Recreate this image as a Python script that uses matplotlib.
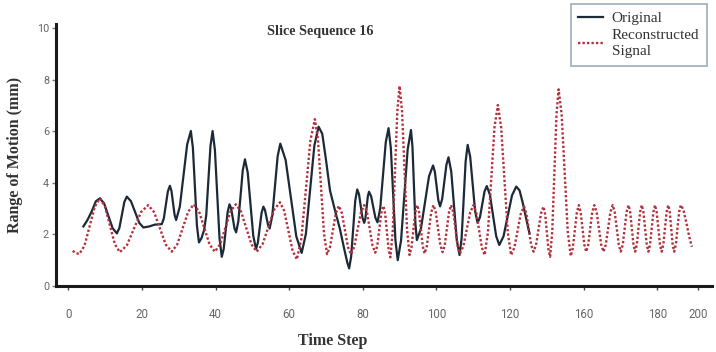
import matplotlib.pyplot as plt

# values (Time Step, Range of Motion in mm)
orig_t = [4.1, 5.2, 6.35, 7.5, 8.6,
          9.75, 10.9, 12.05, 13.2, 13.88, 14.55, 15.23, 15.9,
          17.03, 18.15, 19.28, 20.4, 22.0, 23.5, 25.4,
          25.95, 26.5, 27.05, 27.6, 28.03, 28.45, 28.88, 29.3,
          30.3, 31.3, 32.3, 33.3, 33.85, 34.4, 34.95, 35.5,
          36.2, 36.9, 37.48, 38.05, 38.63, 39.2,
          39.83, 40.45, 41.08, 41.7, 42.23, 42.75, 43.28, 43.8,
          44.25, 44.7, 45.15, 45.6, 46.2, 46.8, 47.4, 48.0,
          48.75, 49.5, 50.25, 51.0, 51.5, 52.0, 52.5, 53.0,
          53.43, 53.85, 54.28, 54.7, 55.43, 56.15, 56.88, 57.6,
          59.05, 60.5, 61.95, 63.4, 64.55, 65.7, 66.85, 68.0,
          69.0, 70.0, 71.1, 72.5, 73.8, 75.0, 75.8, 76.3,
          76.85, 77.4, 77.95, 78.5, 78.98, 79.45, 79.93, 80.4,
          80.73, 81.05, 81.38, 81.7, 82.28, 82.85, 83.43, 84.0,
          84.75, 85.5, 86.25, 87.0, 87.63, 88.25, 88.88, 89.5,
          90.4, 91.3, 92.2, 93.1, 93.5, 93.9, 94.3, 94.7,
          95.8, 96.9, 98.0, 99.1, 99.58, 100.05, 100.53, 101.0,
          101.58, 102.15, 102.73, 103.3, 104.05, 104.8, 105.55, 106.3,
          106.85, 107.4, 107.95, 108.5, 109.18, 109.85, 110.53, 111.2,
          111.83, 112.45, 113.08, 113.7, 114.55, 115.4, 116.25, 117.1,
          118.25, 119.4, 120.55, 121.7, 122.6, 123.5, 124.4, 125.3]
orig_val = [2.30, 2.55, 2.88, 3.28, 3.39,
            3.19, 2.71, 2.23, 2.03, 2.24, 2.75, 3.25, 3.46,
            3.28, 2.86, 2.44, 2.26, 2.30, 2.37, 2.39,
            2.61, 3.14, 3.66, 3.88, 3.68, 3.22, 2.75, 2.55,
            3.07, 4.28, 5.49, 6.01, 5.36, 3.85, 2.33, 1.68,
            1.85, 2.16, 2.74, 4.09, 5.43, 6.01,
            5.28, 3.57, 1.85, 1.12, 1.43, 2.14, 2.85, 3.16,
            3.00, 2.62, 2.23, 2.07, 2.50, 3.49, 4.48, 4.91,
            4.39, 3.17, 1.94, 1.42, 1.67, 2.25, 2.82, 3.07,
            2.94, 2.65, 2.35, 2.22, 2.72, 3.87, 5.03, 5.52,
            4.88, 3.40, 1.91, 1.27, 2.01, 3.73, 5.44, 6.18,
            5.90, 4.90, 3.70, 2.90, 2.20, 1.40, 0.90, 0.67,
            1.13, 2.21, 3.29, 3.74, 3.55, 3.09, 2.63, 2.44,
            2.62, 3.05, 3.47, 3.65, 3.47, 3.06, 2.64, 2.46,
            3.01, 4.29, 5.57, 6.12, 5.35, 3.56, 1.76, 0.99,
            1.75, 3.52, 5.29, 6.05, 5.41, 3.91, 2.41, 1.77,
            2.21, 3.22, 4.25, 4.67, 4.43, 3.88, 3.32, 3.08,
            3.37, 4.04, 4.70, 4.99, 4.42, 3.09, 1.76, 1.19,
            1.83, 3.33, 4.83, 5.47, 5.02, 3.96, 2.89, 2.44,
            2.65, 3.16, 3.66, 3.87, 3.53, 2.73, 1.92, 1.58,
            1.92, 2.72, 3.51, 3.85, 3.70, 3.20, 2.60, 2.03]

rec_t = [1.2, 2.1, 3.0, 4.4, 5.8, 7.2, 8.6,
         9.95, 11.3, 12.65, 14.0, 15.93, 17.85, 19.78, 21.7,
         23.3, 24.9, 26.5, 28.1, 29.6, 31.1, 32.6, 34.1,
         35.53, 36.95, 38.38, 39.8, 41.23, 42.65, 44.08, 45.5,
         46.93, 48.35, 49.78, 51.2, 52.78, 54.35, 55.93, 57.5,
         58.65, 59.8, 60.95, 62.1, 63.33, 64.55, 65.78, 67.0,
         67.83, 68.65, 69.48, 70.3, 71.1, 71.9, 72.7, 73.5,
         74.33, 75.15, 75.98, 76.8, 77.7, 78.6, 79.5, 80.4,
         81.15, 81.9, 82.65, 83.4, 83.95, 84.5, 85.05, 85.6,
         86.08, 86.55, 87.03, 87.5, 88.13, 88.75, 89.38, 90.0,
         90.68, 91.35, 92.03, 92.7, 93.23, 93.75, 94.28, 94.8,
         95.3, 95.8, 96.3, 96.8, 97.4, 98.0, 98.6, 99.2,
         99.83, 100.45, 101.08, 101.7, 102.28, 102.85, 103.43, 104.0,
         104.6, 105.2, 105.8, 106.4, 107.33, 108.25, 109.18, 110.1,
         110.85, 111.6, 112.35, 113.1, 114.0, 114.9, 115.8, 116.7,
         117.6, 118.5, 119.4, 120.3, 121.18, 122.05, 122.93, 123.8,
         124.45, 125.1, 125.75, 126.4, 127.08, 127.75, 128.43, 129.1,
         129.55, 130.0, 130.45, 130.9, 131.48, 132.05, 132.63, 133.2,
         134.03, 134.85, 135.68, 136.5, 137.05, 137.6, 138.15, 138.7,
         139.2, 139.7, 140.2, 140.7, 141.25, 141.8, 142.35, 142.9,
         143.53, 144.15, 144.78, 145.4, 146.03, 146.65, 147.28, 147.9,
         148.45, 149.0, 149.55, 150.1, 150.63, 151.15, 151.68, 152.2,
         152.65, 153.1, 153.55, 154.0, 154.45, 154.9, 155.35, 155.8,
         156.25, 156.7, 157.15, 157.6, 158.05, 158.5, 158.95, 159.4,
         159.85, 160.3, 160.75, 161.2, 161.65, 162.1, 162.55, 163.0,
         163.4, 163.8, 164.2, 164.6, 165.05, 165.5, 165.95, 166.4,
         167.1, 167.9, 168.7, 169.4]
rec_val = [1.35, 1.26, 1.23, 1.55, 2.31, 3.07, 3.39,
           3.08, 2.35, 1.61, 1.30, 1.57, 2.22, 2.86, 3.13,
           2.86, 2.23, 1.59, 1.32, 1.60, 2.24, 2.88, 3.16,
           2.88, 2.24, 1.60, 1.32, 1.60, 2.24, 2.88, 3.16,
           2.88, 2.24, 1.60, 1.32, 1.61, 2.28, 2.95, 3.24,
           2.91, 2.13, 1.35, 1.02, 1.84, 3.75, 5.65, 6.47,
           5.68, 3.85, 2.01, 1.22, 1.50, 2.16, 2.82, 3.10,
           2.82, 2.16, 1.50, 1.22, 1.51, 2.18, 2.84, 3.13,
           2.85, 2.21, 1.56, 1.28, 1.55, 2.19, 2.83, 3.10,
           2.80, 2.10, 1.40, 1.10, 2.10, 4.43, 6.76, 7.76,
           6.77, 4.48, 2.18, 1.19, 1.48, 2.16, 2.85, 3.13,
           2.85, 2.19, 1.53, 1.25, 1.53, 2.19, 2.85, 3.13,
           2.86, 2.22, 1.57, 1.30, 1.57, 2.22, 2.86, 3.13,
           2.85, 2.19, 1.53, 1.25, 1.53, 2.19, 2.85, 3.13,
           2.84, 2.16, 1.48, 1.19, 2.06, 4.11, 6.17, 7.02,
           6.15, 4.11, 2.06, 1.19, 1.47, 2.13, 2.79, 3.07,
           2.81, 2.20, 1.58, 1.32, 1.58, 2.20, 2.81, 3.07,
           2.78, 2.10, 1.41, 1.12, 2.10, 4.38, 6.65, 7.63,
           6.66, 4.39, 2.12, 1.15, 1.45, 2.14, 2.83, 3.13,
           2.86, 2.22, 1.59, 1.32, 1.59, 2.22, 2.86, 3.13,
           2.86, 2.22, 1.59, 1.32, 1.59, 2.22, 2.86, 3.13,
           2.86, 2.22, 1.59, 1.32, 1.59, 2.22, 2.86, 3.13,
           2.86, 2.22, 1.59, 1.32, 1.59, 2.22, 2.86, 3.13,
           2.86, 2.22, 1.59, 1.32, 1.59, 2.22, 2.86, 3.13,
           2.86, 2.22, 1.59, 1.32, 1.59, 2.22, 2.86, 3.13,
           2.86, 2.22, 1.59, 1.32, 1.59, 2.22, 2.86, 3.13,
           2.95, 2.45, 1.90, 1.51]

# the source axis is labelled like this (no 140, short last step)
xtick_pos = [0, 20, 40, 60, 80, 100, 120, 140, 160, 171]
xtick_labels = ['0', '20', '40', '60', '80', '100', '120', '160', '180', '200']
ytick_pos = [0, 2, 4, 6, 8, 10]

serif = 'Liberation Serif'

fig = plt.figure(figsize=(7.16, 3.52), dpi=100)
ax = fig.add_axes([0.0782, 0.1886, 0.9158, 0.7432])

ax.plot(orig_t, orig_val, color='#1c2a38', lw=1.6, label='Original')
ax.plot(rec_t, rec_val, color='#b3323c', lw=1.7, dashes=(1, 0.9),
        label='Reconstructed\nSignal')

ax.set_xlim(-3.34, 174.8)
ax.set_ylim(0, 10.17)

for s in ['top', 'right']:
    ax.spines[s].set_visible(False)
for s in ['left', 'bottom']:
    ax.spines[s].set_color('#1a1a1a')
    ax.spines[s].set_linewidth(2.2)

ax.set_xticks(xtick_pos)
ax.set_xticklabels(xtick_labels)
ax.set_yticks(ytick_pos)
ax.tick_params(axis='x', length=3, width=1, color='#444', pad=13,
               labelsize=8.3, labelcolor='#666')
ax.tick_params(axis='y', length=3, width=1, color='#777', pad=2,
               labelsize=7.8, labelcolor='#666')
for lab in ax.get_xticklabels() + ax.get_yticklabels():
    lab.set_fontfamily('Roboto')

ax.set_title('Slice Sequence 16', fontfamily=serif, fontweight='bold',
             fontsize=10.2, color='#333', x=0.403, y=0.925)
ax.set_xlabel('Time Step', fontfamily=serif, fontweight='bold',
              fontsize=11.5, color='#333')
ax.set_ylabel('Range of Motion (mm)', fontfamily=serif, fontweight='bold',
              fontsize=11.5, color='#333')
ax.xaxis.set_label_coords(0.4225, -0.212)
ax.yaxis.set_label_coords(-0.0625, 0.5)
ax.xaxis.label.set_verticalalignment('center')
ax.yaxis.label.set_verticalalignment('center')

leg = fig.legend(loc='upper right', bbox_to_anchor=(707 / 716, 1 - 4 / 352),
                 borderaxespad=0, fancybox=False, framealpha=1,
                 prop={'family': serif, 'size': 11}, handlelength=1.6,
                 handletextpad=0.6, labelspacing=0.25, borderpad=0.5)
leg.get_frame().set_edgecolor('#a6b4c2')
leg.get_frame().set_linewidth(1.3)
for t in leg.get_texts():
    t.set_color('#333')
    t.set_linespacing(1.3)

fig.savefig('out.png', dpi=100, facecolor='white')
